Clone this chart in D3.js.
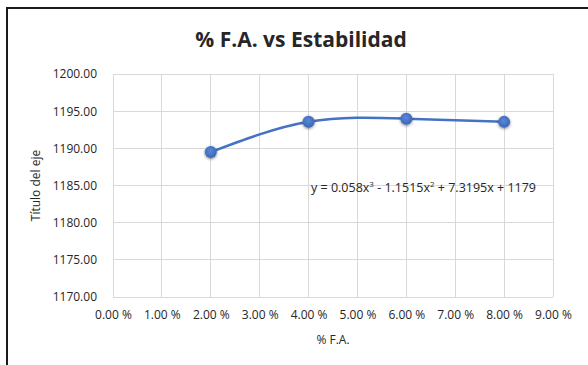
<!DOCTYPE html>
<html>
<head>
<meta charset="utf-8">
<script src="https://cdn.jsdelivr.net/npm/d3@7"></script>
<style>
  html, body { margin: 0; background: #fff; overflow: hidden; }
  svg { display: block; }
  text { font-family: "Open Sans", "Noto Sans", sans-serif; fill: #262626; }
</style>
</head>
<body>
<svg id="chart"></svg>
<script>
// data
const faPercent = [2, 4, 6, 8];
const estabilidad = [1189.5, 1193.57, 1193.99, 1193.56];
const xTicks = [0, 1, 2, 3, 4, 5, 6, 7, 8, 9];
const yTicks = [1170, 1175, 1180, 1185, 1190, 1195, 1200];

const config = {
  width: 588, height: 365,
  margin: { top: 74, bottom: 68, right: 35, left: 113 }
};

let svg = d3.select('#chart')
  .attr('width', config.width)
  .attr('height', config.height);

// outer chart frame: only top and left edges fall inside the window
svg.append('path')
  .attr('d', `M7,${config.height} V8 H${config.width}`)
  .attr('fill', 'none')
  .attr('stroke', '#1a1a1a')
  .attr('stroke-width', 2);

let width = config.width - config.margin.left - config.margin.right;
let height = config.height - config.margin.top - config.margin.bottom;

let chart = svg.append('g')
  .attr('transform', `translate(${config.margin.left},${config.margin.top})`);

let xScale = d3.scaleLinear().domain([0, 9]).range([0, width]);
let yScale = d3.scaleLinear().domain([1170, 1200]).range([height, 0]);

// gridlines
chart.append('g')
  .selectAll('line')
  .data(xTicks)
  .join('line')
  .attr('x1', d => xScale(d)).attr('x2', d => xScale(d))
  .attr('y1', 0).attr('y2', height)
  .attr('stroke', '#d9d9d9').attr('stroke-width', 1)
  .attr('shape-rendering', 'crispEdges');

chart.append('g')
  .selectAll('line')
  .data(yTicks)
  .join('line')
  .attr('x1', 0).attr('x2', width)
  .attr('y1', d => yScale(d)).attr('y2', d => yScale(d))
  .attr('stroke', '#d9d9d9').attr('stroke-width', 1)
  .attr('shape-rendering', 'crispEdges');

// axes (labels only)
let xAxis = d3.axisBottom(xScale)
  .tickValues(xTicks)
  .tickSize(0)
  .tickPadding(13)
  .tickFormat(d => d3.format('.2f')(d) + ' %');
let yAxis = d3.axisLeft(yScale)
  .tickValues(yTicks)
  .tickSize(0)
  .tickPadding(16)
  .tickFormat(d3.format('.2f'));

let xAxisG = chart.append('g')
  .attr('transform', `translate(0,${height})`)
  .call(xAxis);
let yAxisG = chart.append('g').call(yAxis);

[xAxisG, yAxisG].forEach(g => {
  g.select('.domain').remove();
  g.selectAll('text')
    .style('font-family', '"Open Sans", sans-serif')
    .style('font-size', '12px')
    .attr('fill', '#262626');
});

// trend curve through the points
let line = d3.line()
  .x((d, i) => xScale(faPercent[i]))
  .y(d => yScale(d))
  .curve(d3.curveNatural);

chart.append('path')
  .datum(estabilidad)
  .attr('fill', 'none')
  .attr('stroke', '#4472c4')
  .attr('stroke-width', 2.5)
  .attr('d', line);

// marker shadow
let defs = svg.append('defs');
let f = defs.append('filter').attr('id', 'glow')
  .attr('x', '-50%').attr('y', '-50%').attr('width', '200%').attr('height', '200%');
f.append('feGaussianBlur').attr('in', 'SourceAlpha').attr('stdDeviation', 1.6).attr('result', 'blur');
f.append('feOffset').attr('in', 'blur').attr('dx', 0).attr('dy', 1).attr('result', 'off');
f.append('feComponentTransfer').attr('in', 'off').attr('result', 'soft')
  .append('feFuncA').attr('type', 'linear').attr('slope', 0.5);
let merge = f.append('feMerge');
merge.append('feMergeNode').attr('in', 'soft');
merge.append('feMergeNode').attr('in', 'SourceGraphic');

let grad = defs.append('radialGradient').attr('id', 'dot')
  .attr('cx', '45%').attr('cy', '40%').attr('r', '60%');
grad.append('stop').attr('offset', '0%').attr('stop-color', '#5b86d6');
grad.append('stop').attr('offset', '100%').attr('stop-color', '#3a66b8');

chart.selectAll('circle.pt')
  .data(estabilidad)
  .join('circle')
  .attr('class', 'pt')
  .attr('cx', (d, i) => xScale(faPercent[i]))
  .attr('cy', d => yScale(d))
  .attr('r', 6)
  .attr('fill', 'url(#dot)')
  .attr('filter', 'url(#glow)');

// trendline equation
let eq = chart.append('text')
  .attr('x', xScale(4.05))
  .attr('y', yScale(1184.1))
  .style('font-size', '12.5px');
eq.append('tspan').text('y = 0.058x');
eq.append('tspan').text('3').attr('dy', -5).style('font-size', '8px');
eq.append('tspan').text(' - 1.1515x').attr('dy', 5);
eq.append('tspan').text('2').attr('dy', -5).style('font-size', '8px');
eq.append('tspan').text(' + 7.3195x + 1179').attr('dy', 5);

// title
svg.append('text')
  .attr('x', 301)
  .attr('y', 47)
  .attr('text-anchor', 'middle')
  .style('font-size', '21px')
  .style('font-weight', 'bold')
  .attr('fill', '#111')
  .text('% F.A. vs Estabilidad');

// axis titles
chart.append('text')
  .attr('x', width / 2)
  .attr('y', height + 47)
  .attr('text-anchor', 'middle')
  .style('font-size', '12px')
  .text('% F.A.');

chart.append('text')
  .attr('transform', 'rotate(-90)')
  .attr('x', -height / 2)
  .attr('y', -73)
  .attr('text-anchor', 'middle')
  .style('font-size', '12px')
  .text('Título del eje');
</script>
</body>
</html>
